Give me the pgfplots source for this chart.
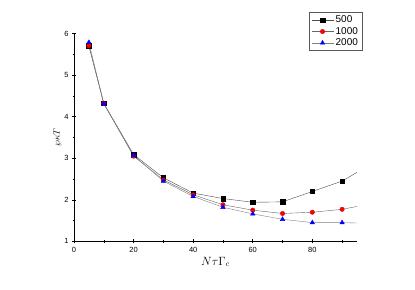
\documentclass[border=0pt]{standalone}
\usepackage{fontspec}
\setmainfont{Liberation Sans}
\usepackage{pgfplots}
\pgfplotsset{compat=1.18}
\begin{document}
\begin{tikzpicture}
\path[use as bounding box] (0,0) rectangle (415bp,290bp);
\begin{axis}[
  at={(74bp,48.7bp)}, anchor=south west,
  scale only axis, width=283bp, height=207.6bp,
  xmin=0, xmax=95, ymin=1, ymax=6,
  axis x line=bottom, axis y line=left,
  axis line style={-, line width=0.6pt},
  xtick={0,20,40,60,80}, ytick={1,2,3,4,5,6},
  minor xtick={10,30,50,70,90}, minor ytick={1.5,2.5,3.5,4.5,5.5},
  tick align=center,
  major tick length=4bp, minor tick length=2.5bp,
  tick style={black, line width=0.5pt},
  tick label style={font=\fontsize{7.5}{8}\selectfont},
  /pgf/number format/assume math mode=true,
  xlabel={$N\tau\Gamma_c$}, ylabel={$\wp\kappa T$},
  xlabel style={font=\fontsize{12}{14}\selectfont, yshift=2bp},
  ylabel style={font=\fontsize{9}{10}\selectfont, yshift=-4bp},
  legend style={at={(1.018,1.104)}, anchor=north east, font=\fontsize{10}{11}\selectfont,
    draw=gray!70!black, line width=0.5pt, row sep=-1bp, inner xsep=2bp, inner ysep=1.5bp},
  legend cell align=left,
  legend image code/.code={\draw[mark repeat=2,mark phase=2,#1] plot coordinates {(0bp,0bp)(11bp,0bp)(22bp,0bp)};},
  clip=true,
]
\addplot[gray!60!black, line width=0.4pt, mark=square*, mark size=2.2bp, mark options={fill=black, draw=black}]
coordinates {(5,5.71)(10,4.32)(20,3.09)(30,2.53)(40,2.16)(50,2.03)(60,1.94)(70,1.95)(80,2.20)(90,2.45)};
\addlegendentry{500}
\addplot[gray!80!black, line width=0.4pt, mark=*, mark size=2.2bp, mark options={fill=red, draw=red!80!black}]
coordinates {(5,5.71)(10,4.32)(20,3.05)(30,2.48)(40,2.12)(50,1.88)(60,1.75)(70,1.67)(80,1.70)(90,1.77)};
\addlegendentry{1000}
\addplot[gray, line width=0.4pt, mark=triangle*, mark size=2.6bp, mark options={fill=blue, draw=blue}]
coordinates {(5,5.79)(10,4.31)(20,3.07)(30,2.45)(40,2.08)(50,1.82)(60,1.66)(70,1.53)(80,1.45)(90,1.45)};
\addlegendentry{2000}
\addplot[gray!60!black, line width=0.4pt, no marks, forget plot] coordinates {(90,2.45)(95,2.66)};
\addplot[gray!80!black, line width=0.4pt, no marks, forget plot] coordinates {(90,1.77)(95,1.84)};
\addplot[gray, line width=0.4pt, no marks, forget plot] coordinates {(90,1.45)(95,1.44)};
\end{axis}
\end{tikzpicture}
\end{document}
